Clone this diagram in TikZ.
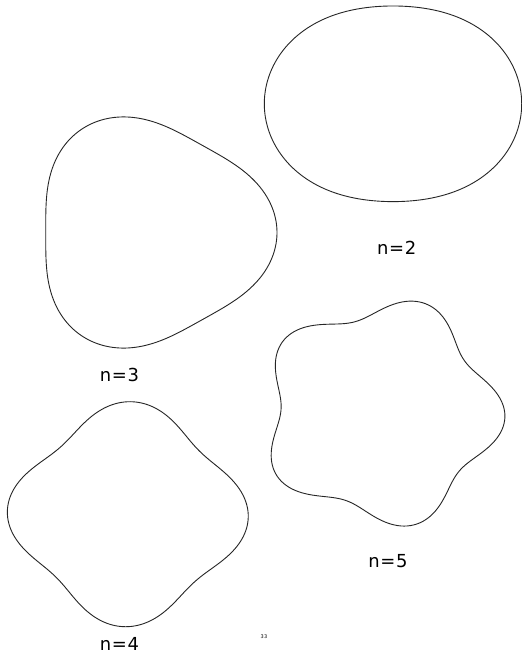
\documentclass[tikz,border=0pt]{standalone}
\usepackage{fontspec}
\setmainfont{DejaVu Sans}[LetterSpace=4]
\begin{document}
\begin{tikzpicture}[x=1bp,y=-1bp,
  curve/.style={draw=black!85,line width=0.9bp},
  lbl/.style={font=\fontsize{18}{18}\selectfont,inner sep=0pt,anchor=center},
  pgnum/.style={font=\fontsize{5}{5}\selectfont,inner sep=0pt}]
\useasboundingbox[fill=white] (0,0) rectangle (522,664);
% n=2
\draw[curve] plot[domain=0:360,samples=240,smooth cycle]
  ({393+(115.3+13.4*cos(2*\x))*cos(\x)},{103.8-0.96*(115.3+13.4*cos(2*\x))*sin(\x)});
% n=3
\draw[curve] plot[domain=0:359,samples=240,smooth cycle]
  ({150+(115.65+11.35*cos(3*\x))*cos(\x)},{232.5-0.966*(115.65+11.35*cos(3*\x))*sin(\x)});
% n=4
\draw[curve] plot[domain=0:359,samples=240,smooth cycle]
  ({127.8+(109.5+11*cos(4*(\x+1.7)))*cos(\x)},{514.2-0.934*(109.5+11*cos(4*(\x+1.7)))*sin(\x)});
% n=5
\draw[curve] plot[domain=0:359,samples=240,smooth cycle]
  ({381+(112+12*cos(5*(\x+2.5)))*cos(\x)},{412.5-0.94*(112+12*cos(5*(\x+2.5)))*sin(\x)});
\node[lbl] (l2) at (396.7,247.5) {n=2};
\node[lbl] (l3) at (119.5,374.7) {n=3};
\node[lbl] (l4) at (119.5,644) {n=4};
\node[lbl] (l5) at (388,560.8) {n=5};
\node[pgnum] (pg) at (264,637) {33};
\end{tikzpicture}
\end{document}
